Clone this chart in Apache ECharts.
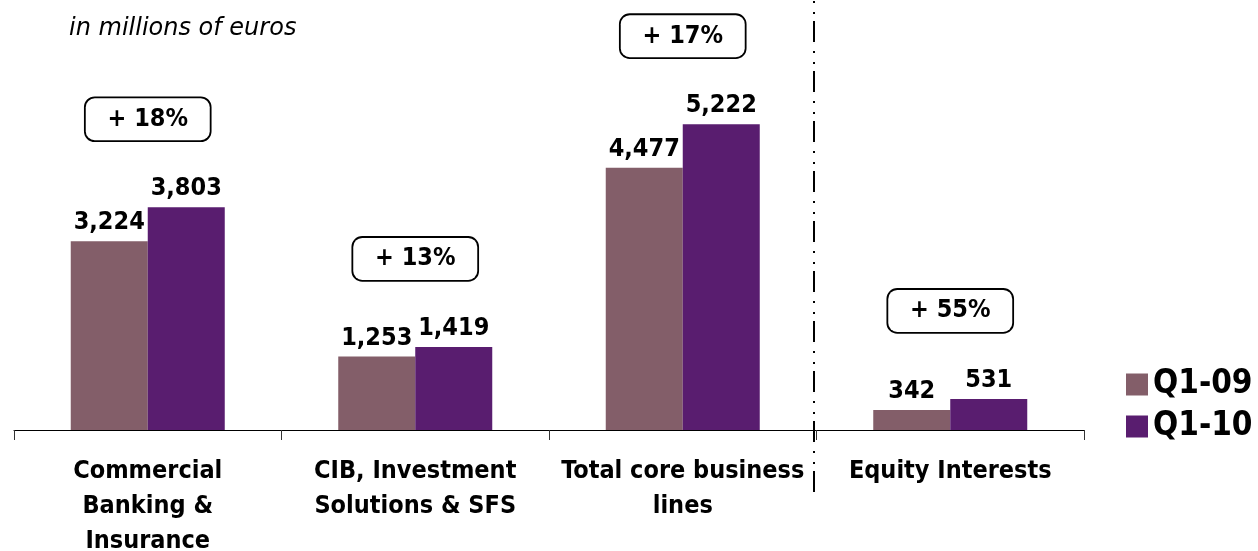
<!DOCTYPE html>
<html>
<head>
<meta charset="utf-8">
<script src="https://cdn.jsdelivr.net/npm/echarts@6/dist/echarts.min.js"></script>
<style>
html,body{margin:0;padding:0;background:#fff;}
#chart{width:1258px;height:551px;}
</style>
</head>
<body>
<div id="chart"></div>
<script>
const categories = ["Commercial\nBanking &\nInsurance", "CIB, Investment\nSolutions & SFS", "Total core business\nlines", "Equity Interests"];
const seriesNames = ["Q1-09", "Q1-10"];
const q109 = [3224, 1253, 4477, 342];
const q110 = [3803, 1419, 5222, 531];
const growthLabels = ["+ 18%", "+ 13%", "+ 17%", "+ 55%"];
const subtitle = "in millions of euros";

const FONT = '"DejaVu Sans Condensed", "DejaVu Sans", sans-serif';
const fmt = v => Number(v).toLocaleString('en-US');

const chart = echarts.init(document.getElementById('chart'), null, {renderer: 'canvas'});

const valueLabel = {
  show: true, position: 'top', distance: 6,
  fontFamily: FONT, fontWeight: 'bold', fontSize: 25, color: '#000',
  formatter: p => fmt(p.value)
};

const option = {
  animation: false,
  backgroundColor: '#fff',
  title: {
    text: subtitle, left: 64, top: 12,
    textStyle: {fontFamily: '"DejaVu Sans", sans-serif', fontStyle: 'italic', fontWeight: 'normal', fontSize: 24, color: '#000'}
  },
  legend: {
    orient: 'vertical', left: 1121, top: 363,
    icon: 'rect', itemWidth: 22, itemHeight: 22, itemGap: 9,
    textStyle: {fontFamily: FONT, fontWeight: 'bold', fontSize: 33, color: '#000', padding: [0,0,0,0]},
    data: seriesNames
  },
  grid: {left: 14, right: 174, top: 20, bottom: 121, containLabel: false, outerBoundsMode: 'none'},
  xAxis: {
    type: 'category', data: categories,
    axisLine: {lineStyle: {color: '#000', width: 1}},
    axisTick: {show: true, length: 10, lineStyle: {color: '#333'}},
    axisLabel: {interval: 0, margin: 24, lineHeight: 35, fontFamily: FONT, fontWeight: 'bold', fontSize: 25, color: '#000'}
  },
  yAxis: {type: 'value', min: 0, max: 7000, show: false, splitLine: {show: false}},
  series: [
    {name: seriesNames[0], type: 'bar', data: q109, barWidth: 77, barGap: '0%',
     itemStyle: {color: '#835E69'}, label: valueLabel},
    {name: seriesNames[1], type: 'bar', data: q110, barWidth: 77, barGap: '0%',
     itemStyle: {color: '#591D6F'}, label: valueLabel},
    {name: 'growth', type: 'scatter', symbolSize: 0, silent: true,
     itemStyle: {opacity: 1},
     data: categories.map((c, i) => [i, Math.max(q109[i], q110[i])]),
     label: {
       show: true, position: 'inside', offset: [0, -88],
       formatter: p => growthLabels[p.dataIndex],
       fontFamily: FONT, fontWeight: 'bold', fontSize: 25, color: '#000',
       backgroundColor: '#fff', borderColor: '#000', borderWidth: 1.8, borderRadius: 9,
       width: 124, height: 42, lineHeight: 42, align: 'center', verticalAlign: 'middle', padding: 0
     }}
  ]
};
chart.setOption(option);

const x2 = chart.convertToPixel({xAxisIndex: 0}, 2);
const x3 = chart.convertToPixel({xAxisIndex: 0}, 3);
const xs = Math.round((x2 + x3) / 2) - 3;
chart.setOption({
  graphic: [{
    type: 'line', silent: true,
    shape: {x1: xs, y1: 0, x2: xs, y2: 497},
    style: {stroke: '#000', lineWidth: 2, lineDash: [21, 9, 2, 9, 2, 7], lineDashOffset: 29}
  }]
});
</script>
</body>
</html>
